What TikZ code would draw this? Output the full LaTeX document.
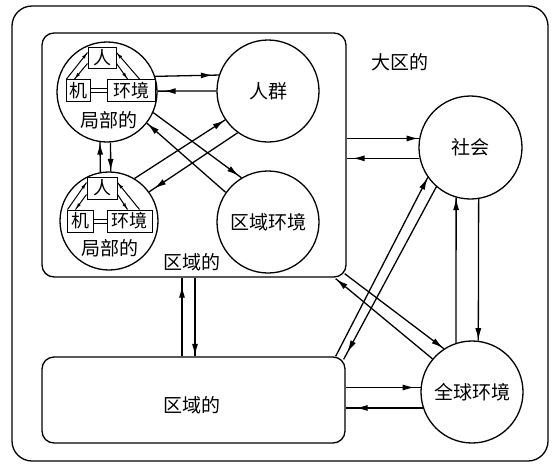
\documentclass[tikz,border=0pt]{standalone}
\usepackage{fontspec}
\setmainfont{Noto Sans CJK SC}
\usetikzlibrary{arrows.meta,calc,decorations.markings}
\tikzset{
  arr/.style={postaction={decorate},decoration={markings,mark=at position #1 with {\arrow{Latex[length=12pt,width=6pt]}}}},
  arr/.default=-0.5pt,
  sarr/.style={postaction={decorate},decoration={markings,mark=at position -0.5pt with {\arrow{Latex[length=6pt,width=3.5pt]}}}},
  circ/.style={draw,circle,minimum size=#1,inner sep=0pt,font=\fontsize{19}{19}\selectfont},
  rbox/.style={draw,rectangle,rounded corners=12pt,inner sep=0pt},
  cbox/.style={draw,rectangle,line width=1pt,inner sep=1pt,minimum height=22pt,font=\fontsize{18}{18}\selectfont},
  lbl/.style={inner sep=0pt,font=\fontsize{19}{19}\selectfont},
  thin line/.style={line width=1pt},
}
\begin{document}
\begin{tikzpicture}[x=1pt,y=-1pt,line width=1.3pt]
\useasboundingbox (0,0) rectangle (552,464);
% containers
\node[draw,rectangle,rounded corners=20pt,minimum width=536pt,minimum height=455pt,inner sep=0pt] (O) at (280,233.5) {};
\node[rbox,minimum width=304pt,minimum height=244pt] (U) at (194,155) {};
\node[rbox,minimum width=303pt,minimum height=86pt] (D) at (193.5,400) {};
% circles
\node[circ=100pt] (L1) at (107,92) {};
\node[circ=98pt] (L2) at (109,221) {};
\node[circ=102pt] (P) at (268,91) {人群};
\node[circ=102pt] (RE) at (268,222) {区域环境};
\node[circ=103pt] (S) at (470.5,147.5) {社会};
\node[circ=102pt] (G) at (472,392) {全球环境};
% labels
\node[lbl] (t1) at (400,62) {大区的};
\node[lbl] (t2) at (192,262) {区域的};
\node[lbl] (t3) at (192,405) {区域的};
% local unit 1
\node[cbox,minimum width=28pt,minimum height=21pt] (h1) at (102,57.5) {人};
\node[cbox,minimum width=24pt] (m1) at (78,90.5) {机};
\node[cbox,minimum width=48pt] (e1) at (131,90.5) {环境};
\node[lbl] (k1) at (109,120) {局部的};
\draw[thin line,sarr] ($(m1.north west)+(1,0)$) -- ($(h1.north west)+(0,6)$);
\draw[thin line,sarr] ($(h1.south west)+(0,-5)$) -- ($(m1.north west)+(9,0)$);
\draw[thin line,sarr] ($(e1.north west)+(33,0)$) -- ($(h1.north east)+(0,6)$);
\draw[thin line,sarr] ($(h1.south east)+(0,-5)$) -- ($(e1.north west)+(21,0)$);
\draw[thin line] ($(m1.east)+(0,-2)$) -- ($(e1.west)+(0,-2)$);
\draw[thin line] ($(m1.east)+(0,2)$) -- ($(e1.west)+(0,2)$);
% local unit 2
\node[cbox,minimum width=30pt] (h2) at (102,188) {人};
\node[cbox,minimum width=26pt] (m2) at (80,221) {机};
\node[cbox,minimum width=45pt] (e2) at (129.5,221) {环境};
\node[lbl] (k2) at (110,248) {局部的};
\draw[thin line,sarr] ($(m2.north west)+(1,0)$) -- ($(h2.north west)+(0,6)$);
\draw[thin line,sarr] ($(h2.south west)+(0,-5)$) -- ($(m2.north west)+(9,0)$);
\draw[thin line,sarr] ($(e2.north west)+(33,0)$) -- ($(h2.north east)+(0,6)$);
\draw[thin line,sarr] ($(h2.south east)+(0,-5)$) -- ($(e2.north west)+(21,0)$);
\draw[thin line] ($(m2.east)+(0,-2)$) -- ($(e2.west)+(0,-2)$);
\draw[thin line] ($(m2.east)+(0,2)$) -- ($(e2.west)+(0,2)$);
% L1 <-> P
\draw[arr=-6pt] (L1.18.7) -- (P.162.9);
\draw[arr=-6pt] (P.180) -- (L1.1.1);
% L1 <-> L2
\draw[arr] (L2.100.6) -- (L1.-98);
\draw[arr] (L1.-86.6) -- (L2.88.8);
% crossing diagonals
\draw[arr=-3pt] (L1.-24) -- (RE.121);
\draw[arr] (RE.145) -- (L1.-38);
\draw[arr] (L2.59) -- (P.214);
\draw[arr=-6pt] (P.234) -- (L2.36);
% U <-> S
\draw[arr] (U.east |- S.170.5) -- (S.170.5);
\draw[arr=-6pt] (S.192.9) -- (U.east |- S.192.9);
% U <-> D
\draw[arr=-8pt] ($(D.north)+(-11.5,0)$) -- ($(U.south)+(-12,0)$);
\draw[arr] ($(U.south)+(1,0)$) -- ($(D.north)+(1.5,0)$);
% S <-> G
\draw[arr] (G.108.3) -- (S.-106.4);
\draw[arr] (S.-81.6) -- (G.83.2);
% U <-> G
\draw[arr] ($(U.south east)+(-2,-4)$) -- (G.123);
\draw[arr] (G.140) -- ($(U.south east)+(-11,1)$);
% D <-> S
\draw[arr] ($(D.north east)+(-10,0)$) -- (S.215.5);
\draw[arr=-8pt] (S.229.5) -- ($(D.north east)+(-2,3)$);
% D <-> G
\draw[arr=-6pt] (D.east |- G.175.5) -- (G.175.5);
\draw[arr=-10pt] (G.198.3) -- (D.east |- G.198.3);
\end{tikzpicture}
\end{document}
